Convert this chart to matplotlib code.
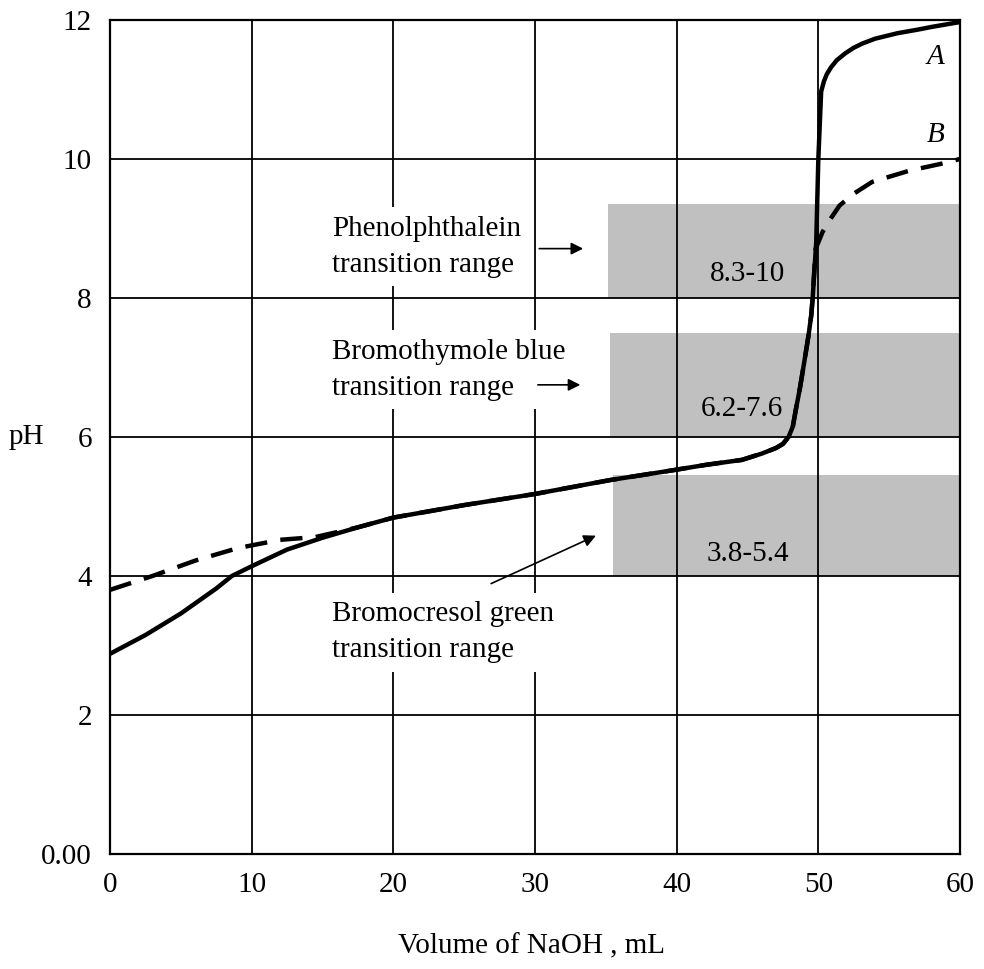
import matplotlib
matplotlib.use("Agg")
import matplotlib.pyplot as plt

plt.rcParams['font.family'] = ['Liberation Serif', 'DejaVu Serif']

# curve A (solid) and curve B (dashed): volume NaOH (mL), pH
vol_a = [0, 2.5, 5, 7.5, 8.6, 10, 12.5, 15, 17.5, 20, 25, 30, 35.3, 39.7, 42.1,
         44.6, 46.0, 47.0, 47.5, 47.9, 48.2, 48.4, 48.7, 49.0, 49.3, 49.5, 49.6,
         49.85, 50.0, 50.2, 50.4, 50.6, 50.9, 51.3, 51.9, 52.5, 53.1, 54.0, 55.6,
         57.0, 58.0, 60]
ph_a = [2.88, 3.15, 3.46, 3.82, 4.0, 4.14, 4.38, 4.55, 4.7, 4.84, 5.02, 5.18, 5.38,
        5.52, 5.6, 5.67, 5.76, 5.84, 5.9, 6.0, 6.15, 6.38, 6.7, 7.07, 7.45, 7.75,
        8.0, 8.8, 10.0, 10.97, 11.12, 11.22, 11.32, 11.42, 11.52, 11.6, 11.66,
        11.73, 11.81, 11.86, 11.9, 11.97]

vol_b = [0, 3, 6, 9, 12, 14.5, 17.5, 20, 25, 30, 35.3, 39.7, 42.1, 44.6, 46.0,
         47.0, 47.5, 47.9, 48.2, 48.4, 48.7, 49.0, 49.3, 49.5, 49.6, 49.8, 50.3,
         50.9, 51.5, 52.5, 53.8, 56.4, 59.1, 60]
ph_b = [3.8, 4.0, 4.22, 4.4, 4.52, 4.56, 4.7, 4.84, 5.02, 5.18, 5.38, 5.52, 5.6,
        5.67, 5.76, 5.84, 5.9, 6.0, 6.15, 6.38, 6.7, 7.07, 7.45, 7.75, 8.0, 8.7,
        8.95, 9.15, 9.33, 9.5, 9.67, 9.83, 9.95, 10.0]

# indicator boxes (as drawn) and their labels
box_start = [35.15, 35.3, 35.5]
box_low = [8.0, 6.0, 4.0]
box_high = [9.35, 7.5, 5.45]
box_labels = ['8.3-10', '6.2-7.6', '3.8-5.4']
box_label_x = [45.0, 44.6, 45.0]
box_label_y = [8.35, 6.4, 4.31]

indicator_names = ['Phenolphthalein\ntransition range',
                   'Bromothymole blue\ntransition range',
                   'Bromocresol green\ntransition range']
name_y = [8.74, 6.97, 3.19]
arrow_tail = [(30.3, 8.71), (30.2, 6.75), (26.9, 3.89)]
arrow_head = [(33.4, 8.71), (33.2, 6.75), (34.3, 4.58)]

x_ticks = [0, 10, 20, 30, 40, 50, 60]
y_ticks = [0, 2, 4, 6, 8, 10, 12]
y_ticklabels = ['0.00', '2', '4', '6', '8', '10', '12']

fig = plt.figure(figsize=(9.84, 9.69), dpi=100)
ax = fig.add_axes([0.1118, 0.1187, 0.8638, 0.8607])

for x0, lo, hi in zip(box_start, box_low, box_high):
    ax.fill_between([x0, 60], lo, hi, color='#c0c0c0', lw=0, zorder=0.3)
for lab, lx, ly in zip(box_labels, box_label_x, box_label_y):
    ax.text(lx, ly, lab, fontsize=21, ha='center', va='center', zorder=1)

ax.plot(vol_a, ph_a, color='black', lw=3.2, solid_joinstyle='round', zorder=3)
ax.plot(vol_b, ph_b, color='black', lw=3.2, dashes=(5, 3), zorder=3)

ax.text(58.3, 11.47, 'A', fontsize=21, style='italic', ha='center', va='center')
ax.text(58.3, 10.35, 'B', fontsize=21, style='italic', ha='center', va='center')

for name, ny in zip(indicator_names, name_y):
    ax.text(15.7, ny, name, fontsize=21, ha='left', va='center', linespacing=1.5,
            zorder=2, bbox=dict(boxstyle='square,pad=0.3', fc='white', ec='none'))
for tail, head in zip(arrow_tail, arrow_head):
    ax.annotate('', xy=head, xytext=tail, zorder=4,
                arrowprops=dict(arrowstyle='-|>', color='black', lw=1.2,
                                mutation_scale=18, shrinkA=0, shrinkB=0))

ax.set_xlim(0, 60)
ax.set_ylim(0, 12)
ax.set_xticks(x_ticks)
ax.set_yticks(y_ticks)
ax.set_yticklabels(y_ticklabels)
ax.tick_params(length=0, labelsize=21, pad=13)
ax.set_axisbelow(True)
ax.grid(True, color='black', lw=1.3)
for sp in ax.spines.values():
    sp.set_linewidth(1.6)

ax.set_xlabel('Volume of NaOH , mL', fontsize=21, va='center')
ax.xaxis.set_label_coords(0.496, -0.111)
ax.set_ylabel('pH', fontsize=21, rotation=0, ha='center', va='center')
ax.yaxis.set_label_coords(-0.098, 0.5)

fig.savefig('out.png', dpi=100)
